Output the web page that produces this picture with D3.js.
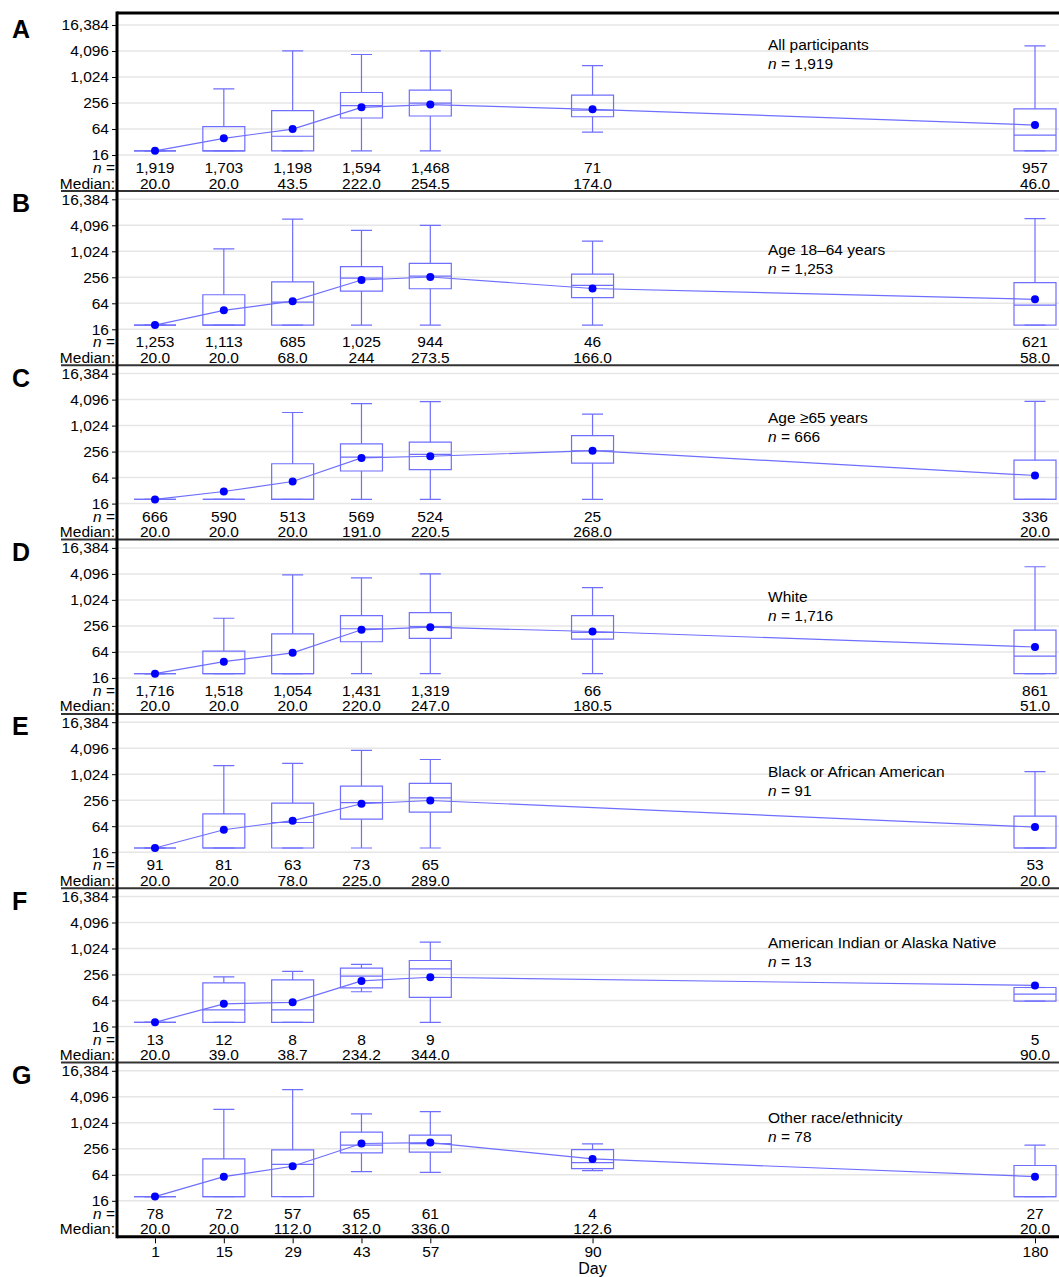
<!DOCTYPE html>
<html lang="en">
<head>
<meta charset="UTF-8">
<title>Antibody titers by day</title>
<script src="https://d3js.org/d3.v7.min.js"></script>
<style>
  body { margin: 0; background: #fff; }
  text { font-family: "Liberation Sans", Arial, sans-serif; fill: #000; }
</style>
</head>
<body>
<div id="chart"></div>
<script>
// days on the x axis
const days = [1, 15, 29, 43, 57, 90, 180];
const yTicks = [16, 64, 256, 1024, 4096, 16384];

const panelLetters = ["A", "B", "C", "D", "E", "F", "G"];
const groupNames = ["All participants", "Age 18\u201364 years", "Age \u226565 years", "White",
                    "Black or African American", "American Indian or Alaska Native", "Other race/ethnicity"];
const groupN = [1919, 1253, 666, 1716, 91, 13, 78];

// one row per panel, one column per day (null = no data that day)
const nCounts = [
  [1919, 1703, 1198, 1594, 1468, 71, 957],
  [1253, 1113, 685, 1025, 944, 46, 621],
  [666, 590, 513, 569, 524, 25, 336],
  [1716, 1518, 1054, 1431, 1319, 66, 861],
  [91, 81, 63, 73, 65, null, 53],
  [13, 12, 8, 8, 9, null, 5],
  [78, 72, 57, 65, 61, 4, 27]
];
const medianLabels = [
  ["20.0", "20.0", "43.5", "222.0", "254.5", "174.0", "46.0"],
  ["20.0", "20.0", "68.0", "244", "273.5", "166.0", "58.0"],
  ["20.0", "20.0", "20.0", "191.0", "220.5", "268.0", "20.0"],
  ["20.0", "20.0", "20.0", "220.0", "247.0", "180.5", "51.0"],
  ["20.0", "20.0", "78.0", "225.0", "289.0", null, "20.0"],
  ["20.0", "39.0", "38.7", "234.2", "344.0", null, "90.0"],
  ["20.0", "20.0", "112.0", "312.0", "336.0", "122.6", "20.0"]
];
const q1 = [
  [20, 20, 20, 115, 128, 123, 20],
  [20, 20, 20, 123, 139, 87, 20],
  [20, 20, 20, 91, 98, 139, 20],
  [20, 20, 20, 110, 131, 127, 20],
  [20, 20, 20, 93, 135, null, 20],
  [20, 20, 20, 126, 76, null, 62],
  [20, 20, 20, 206, 214, 89, 20]
];
const q3 = [
  [20, 73, 170, 448, 506, 388, 187],
  [20, 101, 200, 452, 540, 304, 193],
  [20, 20, 134, 388, 423, 600, 162],
  [20, 67, 168, 445, 522, 445, 204],
  [20, 123, 220, 545, 626, null, 109],
  [20, 164, 192, 360, 540, null, 128],
  [20, 149, 242, 622, 530, 246, 105]
];
const whiskerLo = [
  [20, 20, 20, 20, 20, 54, 20],
  [20, 20, 20, 20, 20, 20, 20],
  [20, 20, 20, 20, 20, 20, 20],
  [20, 20, 20, 20, 20, 20, 20],
  [20, 20, 20, 20, 20, null, 20],
  [20, 20, 20, 102, 20, null, 62],
  [20, 20, 20, 76, 73, 80, 20]
];
const whiskerHi = [
  [20, 545, 4120, 3395, 4120, 1880, 5400],
  [20, 1160, 5670, 3130, 4070, 1760, 5870],
  [20, 20, 2060, 3300, 3660, 1890, 3720],
  [20, 385, 3900, 3330, 4120, 1960, 5990],
  [20, 1610, 1820, 3650, 2240, null, 1175],
  [20, 225, 303, 437, 1440, null, 128],
  [20, 2100, 6030, 1640, 1860, 333, 311]
];
const means = [
  [20, 39, 63.6, 203, 235, 183, 79],
  [20, 44, 71.6, 222, 260, 141, 79],
  [20, 30.5, 52, 183, 200, 269, 71.6],
  [20, 38, 61, 208, 239, 190, 83],
  [20, 53, 86, 212, 252, null, 61],
  [20, 53.6, 58, 182, 221, null, 143],
  [20, 58, 101, 340, 357, 149, 58]
];

// layout
const width = 1059, height = 1277;
const axisX = 117, rightX = 1059;
const firstTop = 25, panelStep = 174.3, plotSpan = 130;
const labelDy = [25, 56, 49, 54, 55, 51, 52];
const boxW = 42, capW = 21;
const boxColor = "#6e6eff", meanColor = "#0000ff";
const fontSize = "15.5px";

const svg = d3.select("#chart").append("svg")
  .attr("width", width).attr("height", height);

const x = d3.scaleLinear().domain([1, 180]).range([155, 1035]);

const fmtN = d3.format(",");

panelLetters.forEach((letter, p) => {
  const y0 = firstTop + p * panelStep;
  const y16 = y0 + plotSpan;
  const y = d3.scaleLog().base(2).domain([16, 16384]).range([y16, y0]);
  const g = svg.append("g").attr("class", "panel");

  // grid lines
  g.selectAll(".grid").data(yTicks).enter().append("line")
    .attr("x1", axisX).attr("x2", rightX)
    .attr("y1", d => y(d)).attr("y2", d => y(d))
    .attr("stroke", "#e6e6e6").attr("stroke-width", 1.5);

  // y axis
  const yAxis = d3.axisLeft(y).tickValues(yTicks).tickFormat(fmtN).tickSize(5).tickPadding(3);
  const ya = g.append("g").attr("transform", `translate(${axisX},0)`).call(yAxis);
  ya.select(".domain").remove();
  ya.selectAll("text").style("font-size", fontSize).style("font-family", "'Liberation Sans', Arial, sans-serif");
  ya.selectAll("line").attr("stroke", "#000");

  // panel letter
  g.append("text").attr("x", 12).attr("y", y0 + 13)
    .style("font-size", "25px").style("font-weight", "bold").text(letter);

  // group label
  const lab = g.append("text").attr("x", 768).attr("y", y0 + labelDy[p]).style("font-size", "15.5px");
  lab.text(groupNames[p]);
  const nl = g.append("text").attr("x", 768).attr("y", y0 + labelDy[p] + 19).style("font-size", "15.5px");
  nl.append("tspan").style("font-style", "italic").text("n");
  nl.append("tspan").text(" = " + fmtN(groupN[p]));

  const idx = days.map((d, i) => i).filter(i => nCounts[p][i] != null);

  // boxes
  const boxes = g.selectAll(".box").data(idx).enter().append("g")
    .attr("fill", "none").attr("stroke", boxColor).attr("stroke-width", 1.2);
  boxes.append("path")
    .attr("d", i => `M${x(days[i]) - boxW / 2},${y(q3[p][i])}H${x(days[i]) + boxW / 2}V${y(q1[p][i])}H${x(days[i]) - boxW / 2}Z`);
  boxes.append("line")
    .attr("x1", i => x(days[i]) - boxW / 2).attr("x2", i => x(days[i]) + boxW / 2)
    .attr("y1", i => y(parseFloat(medianLabels[p][i]))).attr("y2", i => y(parseFloat(medianLabels[p][i])));
  boxes.append("path")
    .attr("d", i => `M${x(days[i])},${y(q3[p][i])}V${y(whiskerHi[p][i])}M${x(days[i]) - capW / 2},${y(whiskerHi[p][i])}h${capW}`);
  boxes.append("path")
    .attr("d", i => `M${x(days[i])},${y(q1[p][i])}V${y(whiskerLo[p][i])}M${x(days[i]) - capW / 2},${y(whiskerLo[p][i])}h${capW}`);

  // mean line and dots
  const line = d3.line().x(i => x(days[i])).y(i => y(means[p][i]));
  g.append("path").datum(idx).attr("d", line)
    .attr("fill", "none").attr("stroke", boxColor).attr("stroke-width", 1.2);
  g.selectAll(".mean").data(idx).enter().append("circle")
    .attr("cx", i => x(days[i])).attr("cy", i => y(means[p][i])).attr("r", 4)
    .attr("fill", meanColor);

  // n and median rows
  const nY = y16 + 18, mY = y16 + 33.5;
  const nh = g.append("text").attr("x", 115).attr("y", nY).attr("text-anchor", "end").style("font-size", fontSize);
  nh.append("tspan").style("font-style", "italic").text("n");
  nh.append("tspan").text(" =");
  g.append("text").attr("x", 115).attr("y", mY).attr("text-anchor", "end").style("font-size", fontSize).text("Median:");
  g.selectAll(".nlab").data(idx).enter().append("text")
    .attr("x", i => x(days[i])).attr("y", nY).attr("text-anchor", "middle").style("font-size", fontSize)
    .text(i => fmtN(nCounts[p][i]));
  g.selectAll(".mlab").data(idx).enter().append("text")
    .attr("x", i => x(days[i])).attr("y", mY).attr("text-anchor", "middle").style("font-size", fontSize)
    .text(i => medianLabels[p][i]);

  // separator below panel
  const sepY = y16 + 36;
  if (p < panelLetters.length - 1) {
    g.append("line").attr("x1", 61).attr("x2", rightX).attr("y1", sepY).attr("y2", sepY)
      .attr("stroke", "#333").attr("stroke-width", 2);
  }
});

const topY = firstTop - 12;
const bottomY = firstTop + (panelLetters.length - 1) * panelStep + plotSpan + 36;

// frame: top, left axis, bottom
svg.append("line").attr("x1", axisX).attr("x2", rightX).attr("y1", topY).attr("y2", topY)
  .attr("stroke", "#000").attr("stroke-width", 3);
svg.append("line").attr("x1", axisX).attr("x2", axisX).attr("y1", topY - 1.5).attr("y2", bottomY + 1.5)
  .attr("stroke", "#000").attr("stroke-width", 3);
svg.append("line").attr("x1", axisX).attr("x2", rightX).attr("y1", bottomY).attr("y2", bottomY)
  .attr("stroke", "#000").attr("stroke-width", 3);

// x axis
const xa = svg.append("g").attr("transform", `translate(0,${bottomY + 1.5})`)
  .call(d3.axisBottom(x).tickValues(days).tickSize(5).tickPadding(3));
xa.select(".domain").remove();
xa.selectAll("text").style("font-size", fontSize).style("font-family", "'Liberation Sans', Arial, sans-serif");
svg.append("text").attr("x", x(90)).attr("y", bottomY + 37).attr("text-anchor", "middle")
  .style("font-size", "16px").text("Day");
</script>
</body>
</html>
